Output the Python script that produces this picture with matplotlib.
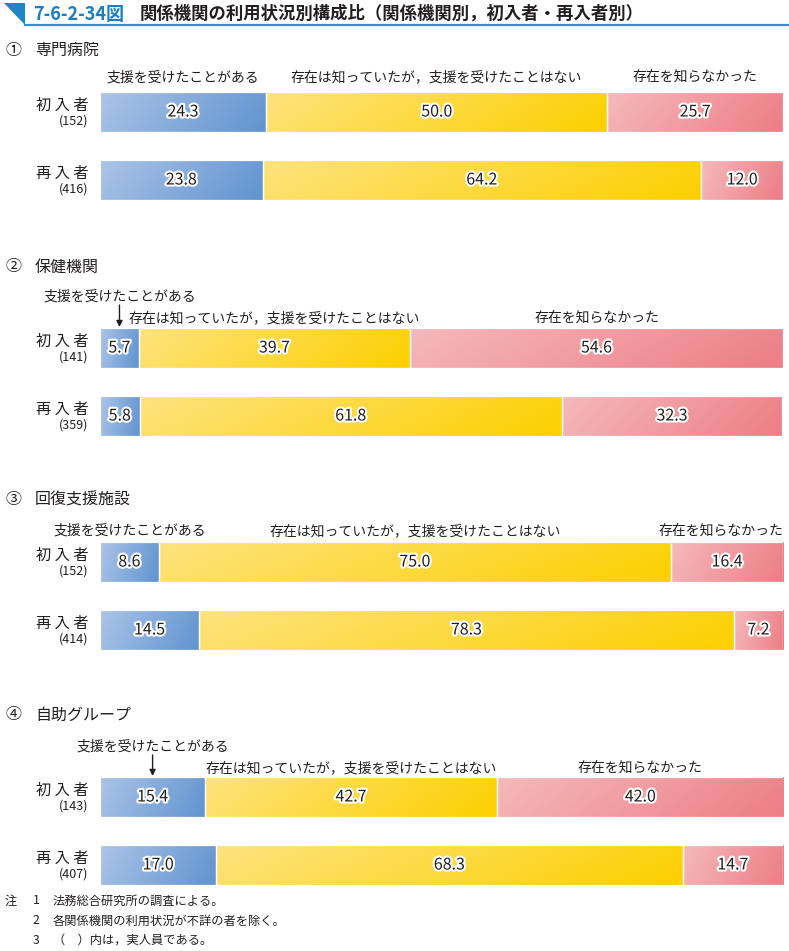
import numpy as np
import matplotlib
matplotlib.use("Agg")
import matplotlib.pyplot as plt
from matplotlib.colors import LinearSegmentedColormap
from matplotlib.patches import Polygon
import matplotlib.patheffects as pe

plt.rcParams['font.family'] = ['Noto Sans CJK JP', 'DejaVu Sans']

# ---------------- data ----------------
title_no = "7-6-2-34図"
title_text = "関係機関の利用状況別構成比（関係機関別，初入者・再入者別）"
panel_marks = ["①", "②", "③", "④"]
panel_names = ["専門病院", "保健機関", "回復支援施設", "自助グループ"]
categories = ["支援を受けたことがある", "存在は知っていたが，支援を受けたことはない", "存在を知らなかった"]
row_names = ["初 入 者", "再 入 者"]

support_first = [24.3, 5.7, 8.6, 15.4]
known_first = [50.0, 39.7, 75.0, 42.7]
unknown_first = [25.7, 54.6, 16.4, 42.0]
n_first = [152, 141, 152, 143]

support_re = [23.8, 5.8, 14.5, 17.0]
known_re = [64.2, 61.8, 78.3, 68.3]
unknown_re = [12.0, 32.3, 7.2, 14.7]
n_re = [416, 359, 414, 407]

notes = ["法務総合研究所の調査による。",
         "各関係機関の利用状況が不詳の者を除く。",
         "（　）内は，実人員である。"]

# ---------------- layout ----------------
W, H = 789, 951
fig = plt.figure(figsize=(W / 100, H / 100), dpi=100)
TXT = '#231f20'

def fx(px):
    return px / W

def fy(py):
    return 1 - py / H

cmaps = [
    LinearSegmentedColormap.from_list('b', ['#abc4e8', '#6194cf']),
    LinearSegmentedColormap.from_list('y', ['#fee37e', '#fcd000']),
    LinearSegmentedColormap.from_list('p', ['#f5b9bb', '#ed7e86']),
]

# title
tri = Polygon([[fx(4), fy(3)], [fx(25), fy(3)], [fx(25), fy(25)]], closed=True,
              transform=fig.transFigure, facecolor='#1d86c4', edgecolor='none')
fig.patches.append(tri)
fig.add_artist(plt.Line2D([fx(25), fx(789)], [fy(25), fy(25)], transform=fig.transFigure,
                          color='#2a93cc', lw=1.6))
fig.text(fx(33), fy(14), title_no, fontsize=13, fontweight='bold', color='#1a7fc0',
         ha='left', va='center')
fig.text(fx(140), fy(14), title_text, fontsize=12.5, fontweight='bold', color=TXT,
         ha='left', va='center')

bar_tops = [92, 328, 542, 777]
header_y = [50, 267, 500, 715]
label_y = [77, 318, 531, 768]
arrow_label_y = [None, 296, None, 746]
ROW = 68.0
BH = 40.0
h = BH / ROW

for i in range(4):
    top = bar_tops[i]
    ax = fig.add_axes([fx(100), fy(top + ROW + BH), (783 - 100) / W, (ROW + BH) / H])
    ax.set_axis_off()

    def py2d(py, top=top):
        return -h / 2 + (py - top) / ROW

    rows = [[support_first[i], known_first[i], unknown_first[i]],
            [support_re[i], known_re[i], unknown_re[i]]]
    ns = [n_first[i], n_re[i]]
    for r, vals in enumerate(rows):
        left = 0.0
        for k, v in enumerate(vals):
            bars = ax.barh(r, v, left=left, height=h, color='none',
                           edgecolor='white', linewidth=0.9, zorder=3)
            rect = bars[0]
            gx = np.linspace(0, 1, 64)
            gy = np.linspace(0, 1, 16)
            G = 0.85 * gx[None, :] + 0.15 * gy[:, None]
            im = ax.imshow(G, cmap=cmaps[k], vmin=0, vmax=1, aspect='auto',
                           extent=(left, left + v, r + h / 2, r - h / 2),
                           origin='upper', zorder=2, interpolation='bilinear')
            im.set_clip_path(rect)
            ax.text(left + v / 2, r, f"{v:.1f}", ha='center', va='center',
                    fontsize=11.5, color='#231f20', zorder=5,
                    path_effects=[pe.withStroke(linewidth=3, foreground='white')])
            left += v
        # row labels
        ax.text(-1.75, r - 0.1, row_names[r], ha='right', va='center', fontsize=11,
                color=TXT, clip_on=False)
        ax.text(-1.75, r + 0.14, f"({ns[r]})", ha='right', va='center', fontsize=9,
                color=TXT, clip_on=False)

    # category labels above first bar
    vals = rows[0]
    centers = [vals[0] / 2, vals[0] + vals[1] / 2, vals[0] + vals[1] + vals[2] / 2]
    for k in range(3):
        if k == 0 and arrow_label_y[i] is not None:
            ax.text(centers[0], py2d(arrow_label_y[i]), categories[0], ha='center',
                    va='center', fontsize=10, color=TXT, clip_on=False)
            ax.annotate('', xy=(centers[0], py2d(top - 1)),
                        xytext=(centers[0], py2d(arrow_label_y[i] + 9)),
                        arrowprops=dict(arrowstyle='-|>', color=TXT, lw=1.0,
                                        mutation_scale=9, shrinkA=0, shrinkB=0),
                        annotation_clip=False)
        else:
            half = len(categories[k]) * 13.5 / 2 * 100 / 683
            if centers[k] + half > 100:
                ax.text(100, py2d(label_y[i]), categories[k], ha='right', va='center',
                        fontsize=10, color=TXT, clip_on=False)
            else:
                ax.text(centers[k], py2d(label_y[i]), categories[k], ha='center',
                        va='center', fontsize=10, color=TXT, clip_on=False)

    ax.set_xlim(0, 100)
    ax.set_ylim(1 + h / 2, -h / 2)

    # panel header
    fig.text(fx(5), fy(header_y[i]), panel_marks[i], fontsize=11.5, color=TXT,
             ha='left', va='center')
    fig.text(fx(35), fy(header_y[i]), panel_names[i], fontsize=11.5, color=TXT,
             ha='left', va='center')

# notes
note_y = [901, 921, 940]
fig.text(fx(5), fy(note_y[0]), "注", fontsize=8.8, color=TXT, ha='left', va='center')
for j, t in enumerate(notes):
    fig.text(fx(33), fy(note_y[j]), str(j + 1), fontsize=8.8, color=TXT, ha='left', va='center')
    fig.text(fx(53), fy(note_y[j]), t, fontsize=8.8, color=TXT, ha='left', va='center')

fig.savefig("out.png", dpi=100)
